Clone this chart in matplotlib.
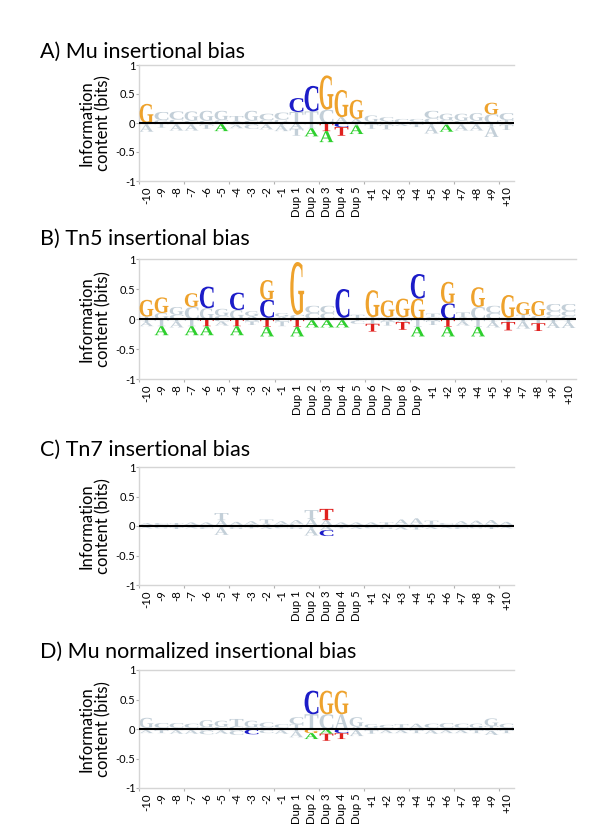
import numpy as np
import matplotlib
matplotlib.use("Agg")
import matplotlib.pyplot as plt
from matplotlib.textpath import TextPath
from matplotlib.patches import PathPatch
from matplotlib.font_manager import FontProperties
from matplotlib.transforms import Affine2D

plt.rcParams['font.family'] = ['Lato', 'DejaVu Sans']

# position labels
LABELS_25 = ["-10", "-9", "-8", "-7", "-6", "-5", "-4", "-3", "-2", "-1",
             "Dup 1", "Dup 2", "Dup 3", "Dup 4", "Dup 5",
             "+1", "+2", "+3", "+4", "+5", "+6", "+7", "+8", "+9", "+10"]
LABELS_29 = ["-10", "-9", "-8", "-7", "-6", "-5", "-4", "-3", "-2", "-1",
             "Dup 1", "Dup 2", "Dup 3", "Dup 4", "Dup 5", "Dup 6", "Dup 7", "Dup 8", "Dup 9",
             "+1", "+2", "+3", "+4", "+5", "+6", "+7", "+8", "+9", "+10"]

# letters per position, bottom-up above zero / top-down below zero
# uppercase = significant (coloured), lowercase = not significant (grey)
A_UP = ["G", "gc", "cc", "cg", "cg", "cg", "at", "cg", "gc", "gc",
        "tC", "tC", "cG", "aG", "aG",
        "ag", "tc", "c", "ac", "cc", "cg", "cg", "cg", "cG", "tc"]
A_UP_H = [[0.33], [0.05, 0.14], [0.06, 0.14], [0.04, 0.16], [0.04, 0.17], [0.05, 0.16], [0.03, 0.09], [0.04, 0.17], [0.05, 0.11], [0.06, 0.12],
          [0.19, 0.24], [0.2, 0.44], [0.23, 0.59], [0.1, 0.47], [0.07, 0.33],
          [0.02, 0.11], [0.03, 0.07], [0.07], [0.02, 0.05], [0.08, 0.13], [0.05, 0.11], [0.04, 0.12], [0.04, 0.13], [0.15, 0.2], [0.05, 0.12]]
A_DN = ["ta", "t", "ta", "ta", "at", "tA", "ca", "gc", "ta", "ta",
        "at", "tA", "TA", "CT", "tA",
        "at", "at", "ga", "ct", "ta", "tA", "ta", "ta", "ta", "at"]
A_DN_H = [[0.03, 0.12], [0.08], [0.03, 0.1], [0.03, 0.1], [0.03, 0.07], [0.02, 0.12], [0.03, 0.06], [0.03, 0.07], [0.03, 0.08], [0.04, 0.1],
          [0.1, 0.12], [0.09, 0.14], [0.14, 0.19], [0.07, 0.15], [0.04, 0.15],
          [0.02, 0.08], [0.03, 0.08], [0.02, 0.03], [0.02, 0.05], [0.04, 0.14], [0.03, 0.12], [0.03, 0.1], [0.03, 0.1], [0.06, 0.18], [0.03, 0.09]]

B_UP = ["tG", "gG", "cg", "cG", "gC", "cg", "gC", "ag", "tCG", "ag",
        "cG", "cc", "cc", "aC", "t", "tG", "tG", "tG", "GC",
        "ct", "CG", "at", "cG", "cc", "tG", "tG", "cG", "gcc", "gcc"]
B_UP_H = [[0.04, 0.28], [0.1, 0.26], [0.07, 0.13], [0.2, 0.23], [0.18, 0.36], [0.05, 0.12], [0.15, 0.29], [0.05, 0.08], [0.02, 0.3, 0.33], [0.04, 0.06],
          [0.07, 0.88], [0.1, 0.12], [0.1, 0.12], [0.02, 0.48], [0.07], [0.03, 0.45], [0.03, 0.28], [0.03, 0.31], [0.34, 0.41],
          [0.03, 0.06], [0.26, 0.36], [0.03, 0.08], [0.2, 0.33], [0.1, 0.12], [0.02, 0.38], [0.07, 0.21], [0.05, 0.25], [0.05, 0.08, 0.12], [0.05, 0.08, 0.12]]
B_DN = ["ta", "tA", "ta", "tA", "TA", "ca", "TA", "gt", "TA", "ct",
        "TA", "tA", "tA", "tA", "tc", "tT", "at", "aT", "tA",
        "at", "TA", "ta", "tA", "ta", "tT", "ta", "tT", "ta", "ta"]
B_DN_H = [[0.05, 0.07], [0.12, 0.15], [0.04, 0.1], [0.12, 0.15], [0.12, 0.15], [0.04, 0.07], [0.12, 0.15], [0.04, 0.06], [0.13, 0.16], [0.04, 0.08],
          [0.13, 0.16], [0.02, 0.12], [0.02, 0.12], [0.02, 0.12], [0.03, 0.05], [0.08, 0.13], [0.04, 0.07], [0.05, 0.13], [0.13, 0.16],
          [0.03, 0.07], [0.13, 0.16], [0.04, 0.07], [0.13, 0.16], [0.05, 0.09], [0.05, 0.14], [0.04, 0.12], [0.07, 0.13], [0.05, 0.1], [0.05, 0.1]]

C_UP = ["ca", "tc", "at", "ta", "ca", "at", "ga", "ta", "at", "ta",
        "ca", "at", "aT", "ca", "ta",
        "ca", "at", "ca", "ca", "ct", "tc", "ga", "ca", "ca", "ga"]
C_UP_H = [[0.02, 0.03], [0.02, 0.03], [0.02, 0.03], [0.02, 0.04], [0.02, 0.04], [0.1, 0.12], [0.02, 0.05], [0.03, 0.05], [0.04, 0.07], [0.03, 0.05],
          [0.04, 0.06], [0.12, 0.15], [0.1, 0.19], [0.02, 0.04], [0.02, 0.04],
          [0.02, 0.04], [0.02, 0.04], [0.03, 0.08], [0.03, 0.1], [0.02, 0.07], [0.02, 0.03], [0.03, 0.05], [0.03, 0.06], [0.03, 0.07], [0.02, 0.05]]
C_DN = ["ta", "ag", "ct", "ga", "tc", "ta", "ag", "ct", "ga", "tc",
        "ag", "ta", "aC", "ct", "ga",
        "tc", "ag", "ta", "ct", "ta", "ga", "tc", "ag", "ct", "ga"]
C_DN_H = [[0.02, 0.02], [0.02, 0.02], [0.02, 0.03], [0.02, 0.02], [0.02, 0.03], [0.03, 0.12], [0.02, 0.03], [0.02, 0.02], [0.02, 0.03], [0.02, 0.02],
          [0.02, 0.03], [0.04, 0.12], [0.07, 0.1], [0.02, 0.02], [0.02, 0.03],
          [0.02, 0.02], [0.02, 0.03], [0.02, 0.04], [0.02, 0.04], [0.02, 0.03], [0.02, 0.02], [0.02, 0.03], [0.02, 0.02], [0.02, 0.03], [0.02, 0.02]]

D_UP = ["ag", "tc", "ac", "tc", "cg", "cg", "ct", "cg", "gc", "ac",
        "tc", "tC", "cG", "aG", "ag",
        "cg", "tc", "ct", "ta", "ac", "gc", "tc", "cg", "tg", "tc"]
D_UP_H = [[0.02, 0.17], [0.02, 0.08], [0.02, 0.08], [0.02, 0.07], [0.03, 0.12], [0.04, 0.1], [0.04, 0.13], [0.03, 0.11], [0.03, 0.08], [0.02, 0.06],
          [0.08, 0.12], [0.25, 0.4], [0.25, 0.4], [0.25, 0.4], [0.04, 0.16],
          [0.02, 0.06], [0.02, 0.05], [0.02, 0.06], [0.02, 0.07], [0.02, 0.07], [0.02, 0.08], [0.02, 0.07], [0.02, 0.07], [0.05, 0.13], [0.02, 0.07]]
D_DN = ["ta", "at", "ca", "ta", "ac", "ta", "gc", "tC", "ac", "ta",
        "ta", "GA", "AT", "CT", "ta",
        "ct", "ta", "ca", "at", "ta", "ca", "ta", "at", "ca", "at"]
D_DN_H = [[0.02, 0.05], [0.02, 0.05], [0.02, 0.06], [0.02, 0.06], [0.03, 0.06], [0.03, 0.05], [0.03, 0.07], [0.01, 0.08], [0.02, 0.05], [0.02, 0.06],
          [0.04, 0.1], [0.07, 0.1], [0.08, 0.12], [0.07, 0.1], [0.02, 0.1],
          [0.02, 0.06], [0.02, 0.05], [0.02, 0.05], [0.02, 0.05], [0.02, 0.06], [0.02, 0.05], [0.02, 0.05], [0.02, 0.05], [0.03, 0.07], [0.02, 0.05]]

TITLES = ["A) Mu insertional bias", "B) Tn5 insertional bias",
          "C) Tn7 insertional bias", "D) Mu normalized insertional bias"]

COLORS = {'A': '#2ecf2e', 'C': '#1c1cc8', 'G': '#eea22c', 'T': '#e0201e'}
GRAY = '#c3cfd8'
LETTER_FONT = FontProperties(family='Liberation Serif', weight='bold')


def draw_letter(ax, ch, x, y, h, w=0.92):
    path = TextPath((0, 0), ch.upper(), size=1, prop=LETTER_FONT)
    bb = path.get_extents()
    tr = Affine2D().translate(-bb.x0, -bb.y0).scale(w / bb.width, h / bb.height).translate(x - w / 2, y)
    if ch.isupper():
        ax.add_patch(PathPatch(tr.transform_path(path), fc=COLORS[ch], ec='none', zorder=3))
    else:
        ax.add_patch(PathPatch(tr.transform_path(path), fc=GRAY, ec='none', zorder=2))


def draw_logo(ax, up, up_h, dn, dn_h):
    for i, (letters, hs) in enumerate(zip(up, up_h)):
        y = 0.0
        for ch, h in zip(letters, hs):
            draw_letter(ax, ch, i, y, h)
            y += h
    for i, (letters, hs) in enumerate(zip(dn, dn_h)):
        y = 0.0
        for ch, h in zip(letters, hs):
            y -= h
            draw_letter(ax, ch, i, y, h)


def setup_axes(ax, labels):
    n = len(labels)
    ax.set_xlim(-0.5, n - 0.5)
    ax.set_ylim(-1, 1)
    ax.axhline(0, color='black', lw=1.5, zorder=5)
    for s in ['left', 'top', 'bottom']:
        ax.spines[s].set_color('#d5d5d5')
        ax.spines[s].set_linewidth(1.0)
    ax.spines['right'].set_visible(False)
    ax.set_yticks([-1, -0.5, 0, 0.5, 1])
    ax.set_yticklabels(['-1', '-0.5', '0', '0.5', '1'], fontsize=8)
    ax.tick_params(axis='y', length=2, width=0.8, color='#b0b0b0', pad=0.5)
    ax.set_xticks(range(n))
    ax.set_xticklabels(labels, rotation=90, fontsize=8.2)
    ax.tick_params(axis='x', which='major', length=0, pad=4)
    ax.set_xticks(np.arange(-0.5, n, 3), minor=True)
    ax.tick_params(axis='x', which='minor', length=2, width=0.8, color='#b0b0b0')


W, H = 600, 831
fig = plt.figure(figsize=(W / 100, H / 100), dpi=100)

# axes boxes in pixels: left, top (y=1), right, bottom (y=-1)
boxes = [(139, 65, 514, 181), (139, 259, 576, 379), (139, 467, 514, 585), (139, 670, 514, 788)]
title_base = [58, 245, 456, 658]
panels = [(LABELS_25, A_UP, A_UP_H, A_DN, A_DN_H),
          (LABELS_29, B_UP, B_UP_H, B_DN, B_DN_H),
          (LABELS_25, C_UP, C_UP_H, C_DN, C_DN_H),
          (LABELS_25, D_UP, D_UP_H, D_DN, D_DN_H)]

for k, (labels, up, up_h, dn, dn_h) in enumerate(panels):
    l, t, r, b = boxes[k]
    ax = fig.add_axes([l / W, 1 - b / H, (r - l) / W, (b - t) / H])
    setup_axes(ax, labels)
    draw_logo(ax, up, up_h, dn, dn_h)
    fig.text(40 / W, 1 - title_base[k] / H, TITLES[k], fontsize=15.5, va='baseline', ha='left')
    fig.text(95 / W, 1 - (t + b) / 2 / H, "Information\ncontent (bits)", rotation=90,
             fontsize=12, ha='center', va='center', linespacing=1.0)

fig.savefig("out.png", dpi=100)
